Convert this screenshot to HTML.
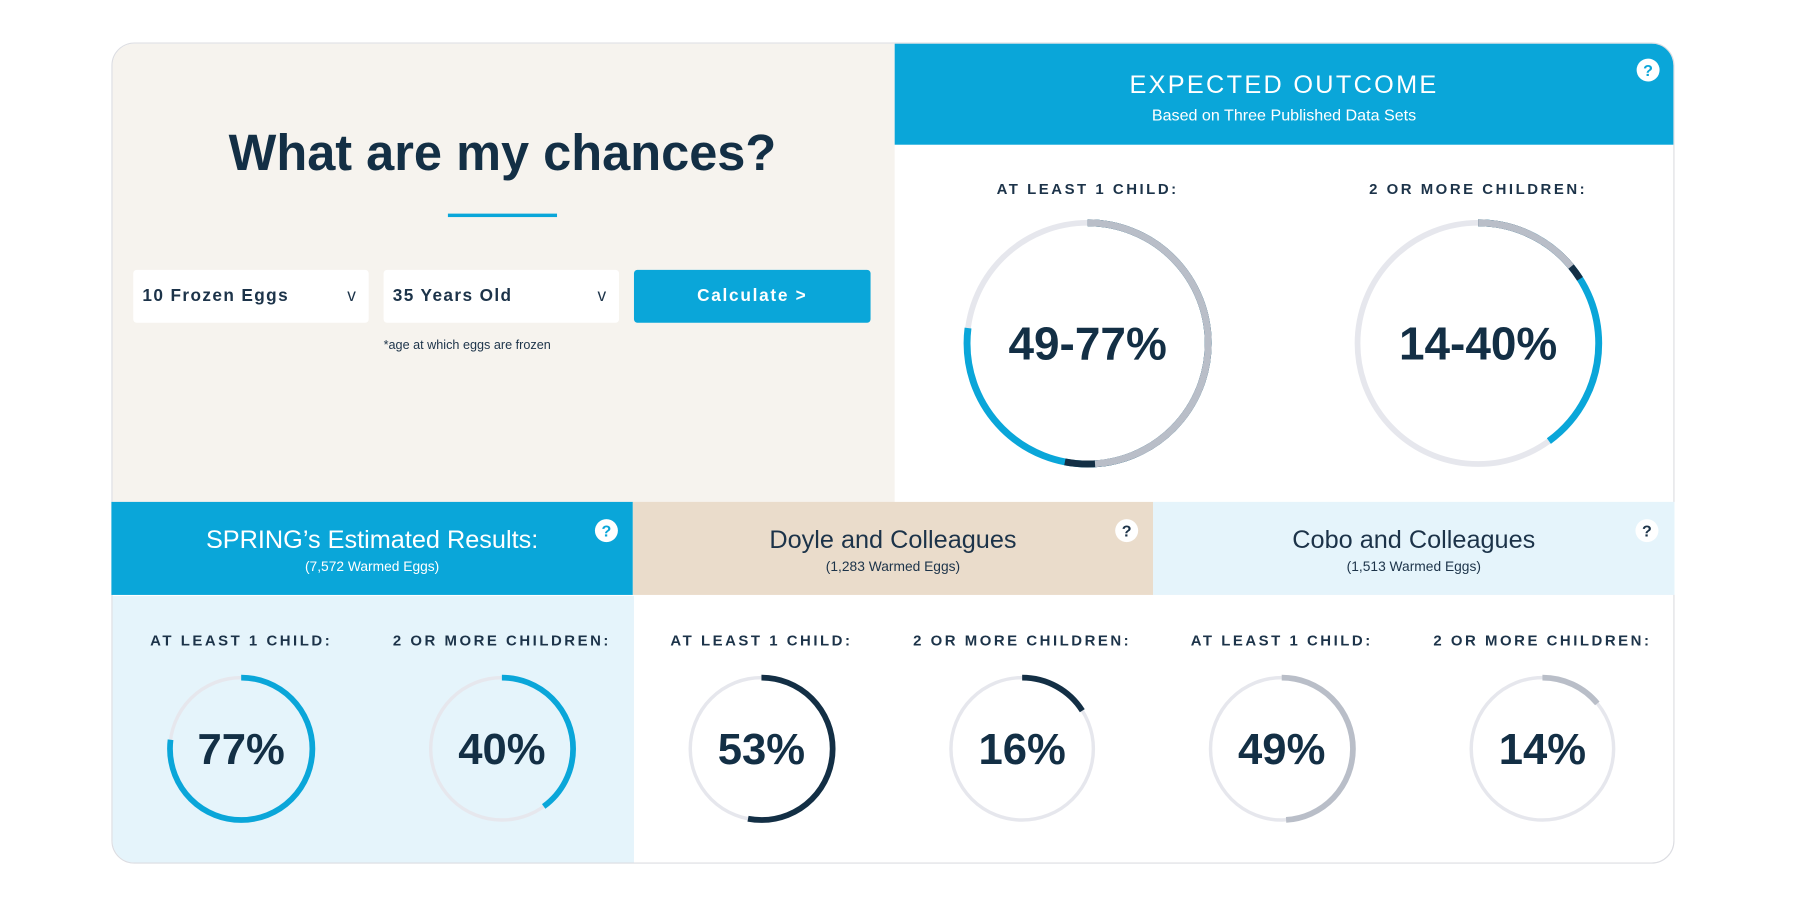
<!DOCTYPE html>
<html><head><meta charset="utf-8"><style>
html,body{margin:0;padding:0;width:1800px;height:899px;overflow:hidden;background:#fff;font-family:"Liberation Sans",sans-serif;}
#wrap{position:absolute;left:0;top:0;width:1560px;height:779px;transform:scale(1.1485);transform-origin:0 0;}
.abs{position:absolute;}
.card{left:97px;top:37px;width:1361px;height:715px;border:1px solid #dcdde2;border-radius:20px;overflow:hidden;box-sizing:border-box;}
.lbl{position:absolute;font-size:13px;font-weight:bold;letter-spacing:2.2px;color:#1c3349;text-align:center;width:240px;margin-left:-120px;}
.q{position:absolute;width:20px;height:20px;border-radius:50%;background:#fff;font-size:14px;font-weight:bold;text-align:center;line-height:20px;margin:-10px 0 0 -10px;}
.sel{position:absolute;background:#fff;border-radius:3px;height:46px;top:235px;font-size:15px;font-weight:bold;letter-spacing:1.2px;color:#1c3349;line-height:46px;box-sizing:border-box;padding-left:8px;}
.sel span{position:absolute;right:10px;top:0;font-weight:normal;}
.hd{position:absolute;top:437px;height:81px;text-align:center;}
.hd .t{font-size:22px;margin-top:20px;}
.hd .s{font-size:12px;margin-top:3px;}
</style></head><body>
<div id="wrap">
 <div class="abs card">
  <div class="abs" style="left:0;top:0;width:681px;height:400px;background:#f6f3ee"></div>
  <div class="abs" style="left:681px;top:0;width:680px;height:88px;background:#0aa6d9"></div>
  <div class="abs" style="left:0;top:481px;width:454px;height:234px;background:#e5f4fb"></div>
 </div>
 <div class="abs" style="left:97px;top:109px;width:681px;text-align:center;font-size:44px;font-weight:bold;color:#132f45">What are my chances?</div>
 <div class="abs" style="left:390px;top:186px;width:95px;height:3px;background:#0aa6d9"></div>
 <div class="sel" style="left:116px;width:205px">10 Frozen Eggs<span>v</span></div>
 <div class="sel" style="left:334px;width:205px">35 Years Old<span>v</span></div>
 <div class="abs" style="left:552px;top:235px;width:206px;height:46px;background:#0aa6d9;border-radius:3px;color:#fff;font-size:15px;font-weight:bold;letter-spacing:1.5px;text-align:center;line-height:46px">Calculate &gt;</div>
 <div class="abs" style="left:334px;top:295px;font-size:11px;color:#1c3349">*age at which eggs are frozen</div>
 <div class="abs" style="left:778px;top:61px;width:680px;text-align:center;color:#fff;font-size:22px;letter-spacing:2px">EXPECTED OUTCOME</div>
 <div class="abs" style="left:778px;top:92px;width:680px;text-align:center;color:#fff;font-size:14px">Based on Three Published Data Sets</div>
 <div class="q" style="left:1435px;top:61px;color:#0aa6d9">?</div>
 <div class="hd" style="left:97px;width:454px;background:#0aa6d9;color:#fff"><div class="t">SPRING’s Estimated Results:</div><div class="s">(7,572 Warmed Eggs)</div></div>
 <div class="hd" style="left:551px;width:453px;background:#eadccb;color:#1c3349"><div class="t">Doyle and Colleagues</div><div class="s">(1,283 Warmed Eggs)</div></div>
 <div class="hd" style="left:1004px;width:454px;background:#e5f4fb;color:#1c3349"><div class="t">Cobo and Colleagues</div><div class="s">(1,513 Warmed Eggs)</div></div>
 <div class="q" style="left:528px;top:462px;color:#0aa6d9">?</div>
 <div class="q" style="left:981px;top:462px;color:#1c3349">?</div>
 <div class="q" style="left:1434px;top:462px;color:#1c3349">?</div>
 <svg id="rings" class="abs" style="left:0;top:0" width="1560" height="779"></svg>
</div>
<script>
// dataset values (% chance)
const datasetNames = ["spring","doyle","cobo"];
const atLeastOne = [77,53,49];
const twoOrMore = [40,16,14];
const datasetColors = ["#0aa6d9","#132f45","#b9bec8"];
const outcomeLabels = ["AT LEAST 1 CHILD:","2 OR MORE CHILDREN:"];

const svg = document.getElementById('rings');
const NS = 'http://www.w3.org/2000/svg';
function arc(cx,cy,r,frac,color,w,name){
  const el = document.createElementNS(NS,'circle');
  const c = 2*Math.PI*r;
  el.setAttribute('cx',cx);el.setAttribute('cy',cy);el.setAttribute('r',r);
  el.setAttribute('fill','none');el.setAttribute('stroke',color);el.setAttribute('stroke-width',w);
  el.setAttribute('stroke-dasharray',(c*frac/100)+' '+c);
  el.setAttribute('transform','rotate(-90 '+cx+' '+cy+')');
  
  
  svg.appendChild(el);
}
function txt(x,y,s,size,name){
  const t = document.createElementNS(NS,'text');
  t.setAttribute('x',x);t.setAttribute('y',y);t.setAttribute('text-anchor','middle');
  t.setAttribute('font-size',size);t.setAttribute('font-weight','bold');t.setAttribute('fill','#132f45');
  t.setAttribute('font-family','Liberation Sans, sans-serif');
  t.textContent = s;
  
  
  svg.appendChild(t);
}
function label(x,y,s,name){
  const d = document.createElement('div');
  d.className='lbl';d.style.left=x+'px';d.style.top=y+'px';d.textContent=s;
  
  
  document.getElementById('wrap').appendChild(d);
}
const series = [atLeastOne, twoOrMore];
const bigX = [947,1287];
series.forEach((vals,k)=>{
  const cx=bigX[k], cy=299;
  label(cx,157,outcomeLabels[k],'expected-label-'+k);
  arc(cx,cy,105,100,'#e6e7ed',5,'expected-track-'+k);
  vals.forEach((v,i)=>arc(cx,cy,105,v,datasetColors[i],6,'expected-arc-'+datasetNames[i]+'-'+k));
  const mn=Math.min(...vals), mx=Math.max(...vals);
  txt(cx,cy+14,mn+'-'+mx+'%',40,'expected-range-'+k);
});
const colX = [[210,437],[663,890],[1116,1343]];
datasetNames.forEach((n,i)=>{
  series.forEach((vals,k)=>{
    const cx=colX[i][k], cy=652;
    label(cx,550,outcomeLabels[k],n+'-label-'+k);
    arc(cx,cy,62,100,'#e6e7ed',3,n+'-track-'+k);
    arc(cx,cy,62,vals[i],datasetColors[i],5,n+'-arc-'+k);
    txt(cx,cy+13,vals[i]+'%',38,n+'-value-'+k);
  });
});
</script>
</body></html>
